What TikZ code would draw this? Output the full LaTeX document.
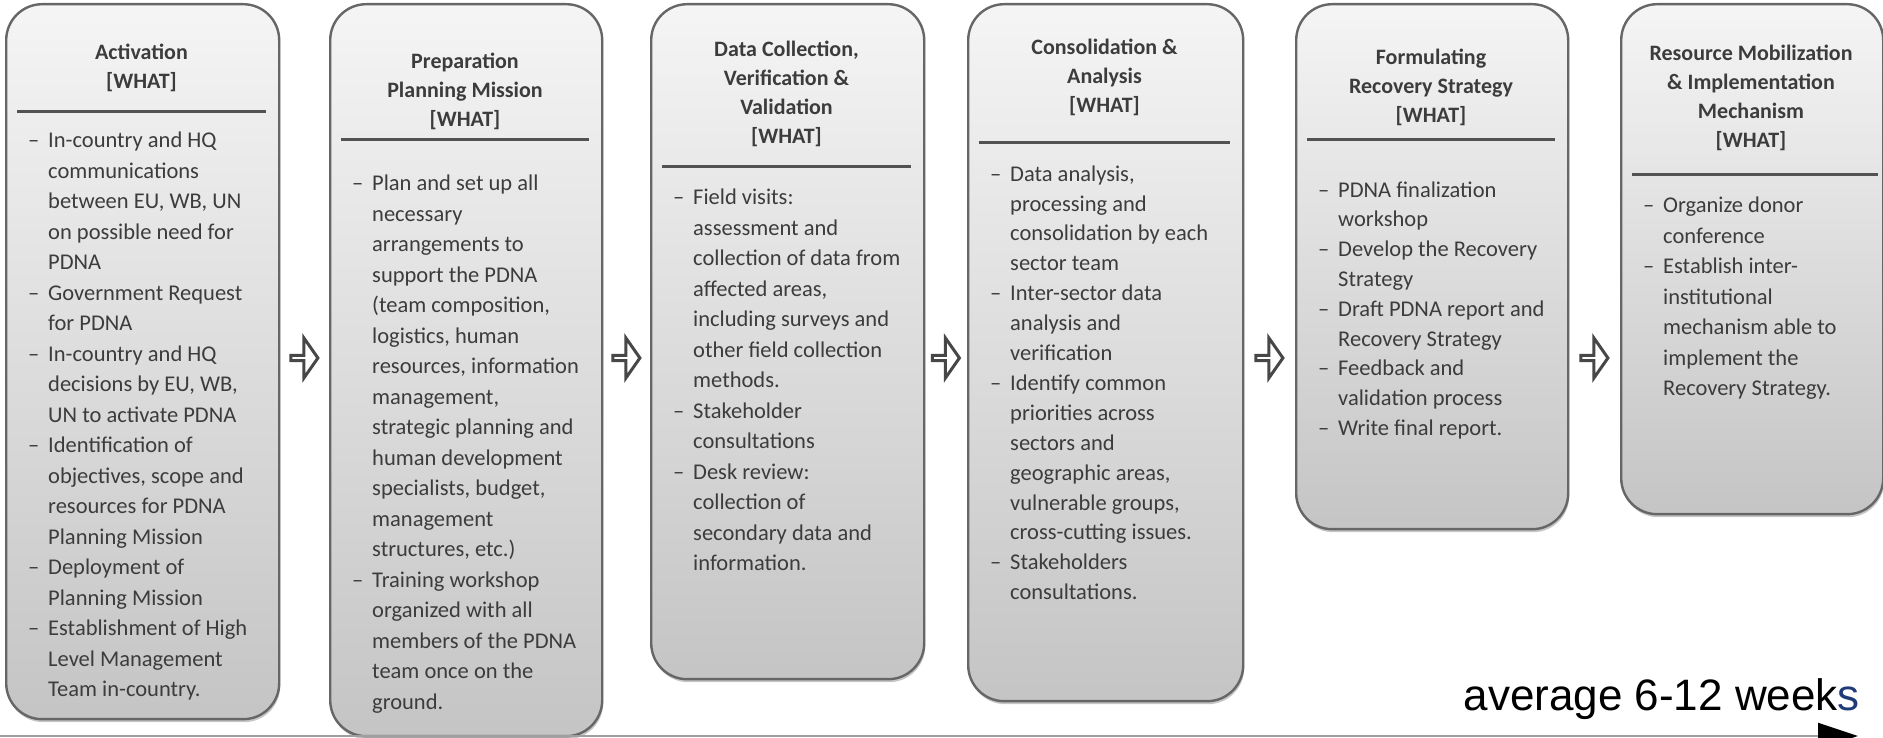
\documentclass[tikz,border=0pt]{standalone}
\usepackage{fontspec}
\setmainfont{Carlito}
\newfontfamily\arialfont{Liberation Sans}
\usetikzlibrary{arrows.meta}
\usetikzlibrary{shapes.arrows}
\usetikzlibrary{shadows}
\definecolor{boxedge}{HTML}{666666}
\definecolor{boxtext}{HTML}{3C3C3C}
\definecolor{weekblue}{HTML}{1F3C78}
\newcommand{\dsh}{\strut\makebox[20pt][l]{–}}
\newcommand{\ctn}{\strut\hspace*{20pt}}

\begin{document}
\begin{tikzpicture}[x=1pt, y=1pt,
    stepbox/.style={draw=boxedge, line width=2.4pt, rounded corners=36pt,
      top color=gray!8, bottom color=gray!46, anchor=north west, inner sep=0pt,
      drop shadow={shadow xshift=1pt, shadow yshift=-3pt, opacity=0.45}},
    steptitle/.style={anchor=north, align=center, inner sep=0pt, text=boxtext,
      font=\fontsize{22}{29}\selectfont\bfseries},
    stepbody/.style={anchor=north west, align=left, inner sep=0pt, text=boxtext,
      font=\fontsize{22.5}{30.5}\selectfont},
    sepline/.style={draw=boxedge!80!black, line width=3pt},
    flowarrow/.style={single arrow, draw=boxedge!70!black, fill=white, line width=3pt,
      minimum height=27pt, minimum width=40pt, single arrow head extend=10pt,
      single arrow tip angle=110, inner sep=0pt}]

          \useasboundingbox (0,0) rectangle (1883,738);

          % the six phases
          \node[stepbox, minimum width=273pt, minimum height=715pt] (b1) at (5,735) {};
          \node[stepbox, minimum width=272pt, minimum height=732pt] (b2) at (329,735) {};
          \node[stepbox, minimum width=273pt, minimum height=675pt] (b3) at (650,735) {};
          \node[stepbox, minimum width=275pt, minimum height=697pt] (b4) at (967,735) {};
          \node[stepbox, minimum width=272pt, minimum height=525pt] (b5) at (1295,735) {};
          \node[stepbox, minimum width=262pt, minimum height=510pt] (b6) at (1620,735) {};

          \node[steptitle] (h1) at (141.5,699) {\strut Activation\\ {[WHAT]}};
          \node[steptitle] (h2) at (465,690) {\strut Preparation\\ Planning Mission\\ {[WHAT]}};
          \node[steptitle] (h3) at (786.5,702) {\strut Data Collection,\\ Verification \&\\ Validation\\ {[WHAT]}};
          \node[steptitle] (h4) at (1104.5,704) {\strut Consolidation \&\\ Analysis\\ {[WHAT]}};
          \node[steptitle] (h5) at (1431,694) {\strut Formulating\\ Recovery Strategy\\ {[WHAT]}};
          \node[steptitle] (h6) at (1751,698) {\strut Resource Mobilization\\ \& Implementation\\ Mechanism\\ {[WHAT]}};

          \draw[sepline] (17,626) -- (266,626);
          \draw[sepline] (341,598) -- (589,598);
          \draw[sepline] (662,571) -- (911,571);
          \draw[sepline] (979,595) -- (1230,595);
          \draw[sepline] (1307,598) -- (1555,598);
          \draw[sepline] (1632,563) -- (1878,563);

          \node[stepbody] (l1) at (28,612) {\dsh In-country and HQ\\ \ctn communications\\
            \ctn between EU, WB, UN\\ \ctn on possible need for\\ \ctn PDNA\\
            \dsh Government Request\\ \ctn for PDNA\\
            \dsh In-country and HQ\\ \ctn decisions by EU, WB,\\ \ctn UN to activate PDNA\\
            \dsh Identification of\\ \ctn objectives, scope and\\ \ctn resources for PDNA\\ \ctn Planning Mission\\
            \dsh Deployment of\\ \ctn Planning Mission\\
            \dsh Establishment of High\\ \ctn Level Management\\ \ctn Team in-country.};
          \node[stepbody] (l2) at (352,569) {\dsh Plan and set up all\\ \ctn necessary\\
            \ctn arrangements to\\ \ctn support the PDNA\\ \ctn (team composition,\\
            \ctn logistics, human\\ \ctn resources, information\\ \ctn management,\\
            \ctn strategic planning and\\ \ctn human development\\ \ctn specialists, budget,\\
            \ctn management\\ \ctn structures, etc.)\\
            \dsh Training workshop\\ \ctn organized with all\\ \ctn members of the PDNA\\
            \ctn team once on the\\ \ctn ground.};
          \node[stepbody] (l3) at (673,555) {\dsh Field visits:\\ \ctn assessment and\\
            \ctn collection of data from\\ \ctn affected areas,\\ \ctn including surveys and\\
            \ctn other field collection\\ \ctn methods.\\
            \dsh Stakeholder\\ \ctn consultations\\
            \dsh Desk review:\\ \ctn collection of\\ \ctn secondary data and\\ \ctn information.};
          \node[stepbody, font=\fontsize{22.5}{29.9}\selectfont] (l4) at (990,578) {\dsh Data analysis,\\ \ctn processing and\\
            \ctn consolidation by each\\ \ctn sector team\\
            \dsh Inter-sector data\\ \ctn analysis and\\ \ctn verification\\
            \dsh Identify common\\ \ctn priorities across\\ \ctn sectors and\\
            \ctn geographic areas,\\ \ctn vulnerable groups,\\ \ctn cross-cutting issues.\\
            \dsh Stakeholders\\ \ctn consultations.};
          \node[stepbody, font=\fontsize{22.5}{29.8}\selectfont] (l5) at (1318,562) {\dsh PDNA finalization\\ \ctn workshop\\
            \dsh Develop the Recovery\\ \ctn Strategy\\
            \dsh Draft PDNA report and\\ \ctn Recovery Strategy\\
            \dsh Feedback and\\ \ctn validation process\\
            \dsh Write final report.};
          \node[stepbody] (l6) at (1643,547) {\dsh Organize donor\\ \ctn conference\\
            \dsh Establish inter-\\ \ctn institutional\\ \ctn mechanism able to\\
            \ctn implement the\\ \ctn Recovery Strategy.};

          \node[flowarrow] (a12) at (303.5,380) {};
          \node[flowarrow] (a23) at (625.5,380) {};
          \node[flowarrow] (a34) at (945,380) {};
          \node[flowarrow] (a45) at (1268.5,380) {};
          \node[flowarrow] (a56) at (1593.5,380) {};

          % time line
          \coordinate (tl0) at (0,2);
          \coordinate (tl1) at (1858,2);
          \draw[draw=gray!75, line width=2pt, -{Triangle[length=40pt, width=26pt, color=black]}] (tl0) -- (tl1);
          \node[font=\arialfont\fontsize{44}{50}\selectfont, anchor=base east, inner sep=0pt] (wk)
            at (1860,27) {average 6-12 week\textcolor{weekblue}{s}};

        \end{tikzpicture}
\end{document}
